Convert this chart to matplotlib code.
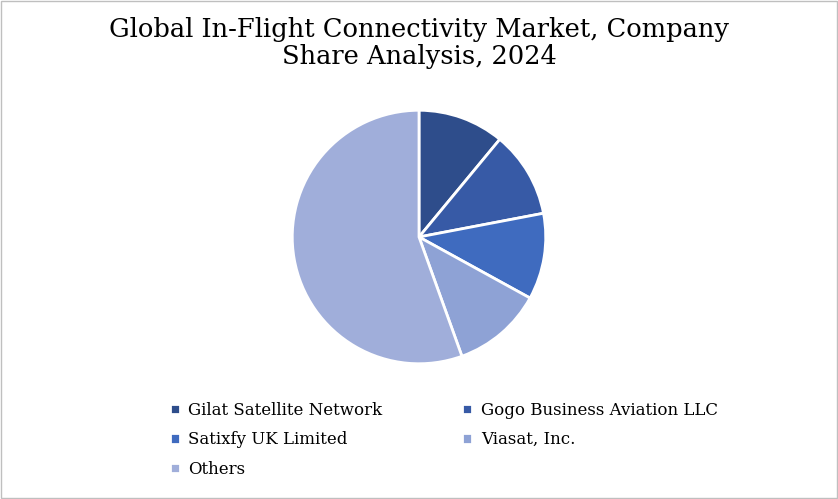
import matplotlib
matplotlib.use("Agg")
import matplotlib.pyplot as plt
from matplotlib.patches import Rectangle

companies = ["Gilat Satellite Network", "Gogo Business Aviation LLC", "Satixfy UK Limited", "Viasat, Inc.", "Others"]
shares = [11, 11, 11, 11.5, 55.5]
colors = ["#2E4D8B", "#375AA6", "#3F6BBF", "#8EA2D5", "#A0AEDA"]

fig = plt.figure(figsize=(8.38, 4.99), dpi=100)
fig.patches.append(Rectangle((0.001, 0.002), 0.998, 0.996, transform=fig.transFigure,
                             fill=False, edgecolor="#BFBFBF", linewidth=1))
fig.text(0.5, 0.965, "Global In-Flight Connectivity Market, Company\nShare Analysis, 2024",
         ha="center", va="top", fontsize=18.5, family="DejaVu Serif", linespacing=1.1)
ax = fig.add_axes([0.5 - 128/838, 1 - 365/499, 256/838, 256/499])
wedges, _ = ax.pie(shares, colors=colors, startangle=90, counterclock=False, radius=1,
                   wedgeprops=dict(edgecolor="white", linewidth=2))
ax.set_xlim(-1.01, 1.01)
ax.set_ylim(-1.01, 1.01)
ax.set_aspect("equal")
order = [0, 2, 4, 1, 3]
leg = fig.legend([wedges[i] for i in order], [companies[i] for i in order],
                 loc="upper left", bbox_to_anchor=(0.185, 0.225), ncol=2,
                 frameon=False, prop={"family": "DejaVu Serif", "size": 12},
                 handlelength=0.6, handleheight=0.6, columnspacing=4.8, labelspacing=0.75,
                 handletextpad=0.5)
fig.savefig("out.png", dpi=100)
